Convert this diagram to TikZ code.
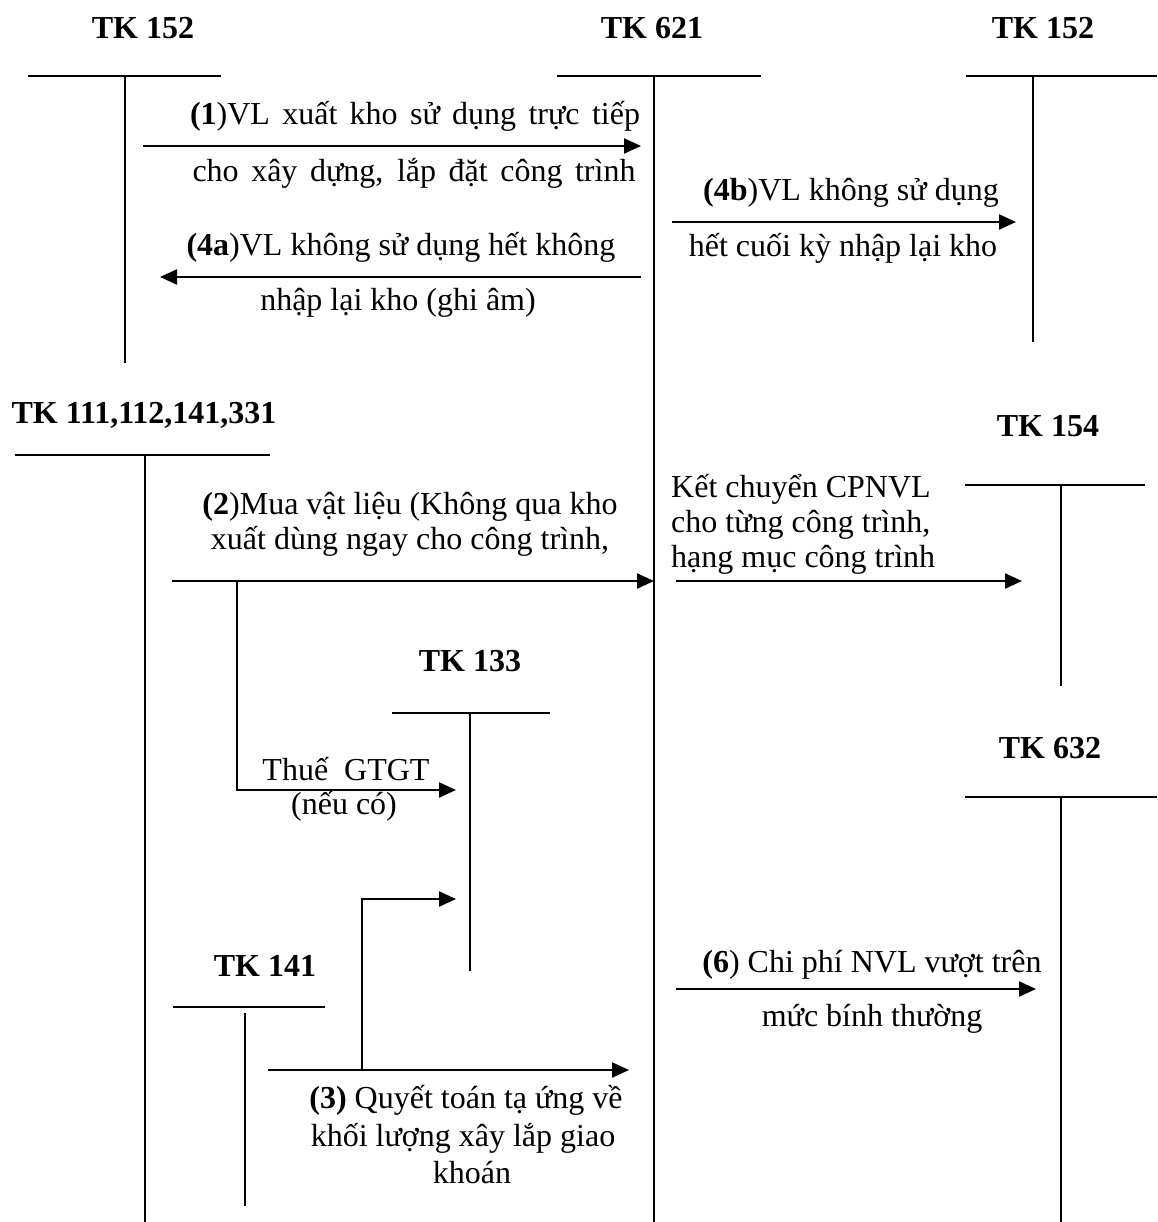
\documentclass[tikz,border=0pt]{standalone}
\usepackage{fontspec}
\setmainfont{Liberation Serif}
\usetikzlibrary{arrows.meta}
\begin{document}
\begin{tikzpicture}[x=1pt,y=-1pt,
  tline/.style={line width=1.8pt},
  flow/.style={line width=2.2pt,-{Triangle[length=17pt,width=15pt]}},
  lbl/.style={font=\fontsize{32}{37}\selectfont, inner sep=0pt, anchor=base},
  lbll/.style={font=\fontsize{32}{37}\selectfont, inner sep=0pt, anchor=base west},
  ttl/.style={font=\bfseries\fontsize{32}{37}\selectfont, inner sep=0pt, anchor=base}]
\useasboundingbox (0,0) rectangle (1157,1222);

% ---------- account titles ----------
\node[ttl] (t152a) at (143,39) {TK 152};
\node[ttl] (t621) at (652,39) {TK 621};
\node[ttl] (t152b) at (1043,39) {TK 152};
\node[ttl] (t111) at (144,423) {TK 111,112,141,331};
\node[ttl] (t154) at (1048,436) {TK 154};
\node[ttl] (t133) at (470,671) {TK 133};
\node[ttl] (t632) at (1050,758) {TK 632};
\node[ttl] (t141) at (265,976) {TK 141};

% ---------- T-accounts ----------
\coordinate (a1l) at (28,76);  \coordinate (a1r) at (221,76);
\coordinate (a1t) at (125,76); \coordinate (a1b) at (125,363);
\coordinate (a2l) at (557,76); \coordinate (a2r) at (761,76);
\coordinate (a2t) at (654,76); \coordinate (a2b) at (654,1222);
\coordinate (a3l) at (966,76); \coordinate (a3r) at (1157,76);
\coordinate (a3t) at (1033,76); \coordinate (a3b) at (1033,342);
\coordinate (a4l) at (15,455); \coordinate (a4r) at (270,455);
\coordinate (a4t) at (145,455); \coordinate (a4b) at (145,1222);
\coordinate (a5l) at (965,485); \coordinate (a5r) at (1145,485);
\coordinate (a5t) at (1061,485); \coordinate (a5b) at (1061,686);
\coordinate (a6l) at (392,713); \coordinate (a6r) at (550,713);
\coordinate (a6t) at (470,713); \coordinate (a6b) at (470,971);
\coordinate (a7l) at (173,1007); \coordinate (a7r) at (325,1007);
\coordinate (a7t) at (245,1013); \coordinate (a7b) at (245,1206);
\coordinate (a8l) at (965,797); \coordinate (a8r) at (1157,797);
\coordinate (a8t) at (1061,797); \coordinate (a8b) at (1061,1222);

\foreach \k in {1,...,8}{
  \draw[tline] (a\k l) -- (a\k r);
  \draw[tline] (a\k t) -- (a\k b);
}

% ---------- connectors ----------
\coordinate (f1s) at (143,146); \coordinate (f1e) at (641,146);
\draw[flow] (f1s) -- (f1e);
\coordinate (f4as) at (641,277); \coordinate (f4ae) at (160,277);
\draw[flow] (f4as) -- (f4ae);
\coordinate (f4bs) at (672,222); \coordinate (f4be) at (1016,222);
\draw[flow] (f4bs) -- (f4be);
\coordinate (f2s) at (172,581); \coordinate (f2e) at (654,581);
\draw[flow] (f2s) -- (f2e);
\coordinate (f5s) at (676,581); \coordinate (f5e) at (1022,581);
\draw[flow] (f5s) -- (f5e);
\coordinate (gs) at (237,581); \coordinate (ge) at (456,790);
\draw[flow] (gs) |- (ge);
\coordinate (f3s) at (268,1070); \coordinate (f3e) at (629,1070);
\draw[flow] (f3s) -- (f3e);
\coordinate (vs) at (362,1070); \coordinate (ve) at (456,899);
\draw[flow] (vs) |- (ve);
\coordinate (f6s) at (676,989); \coordinate (f6e) at (1036,989);
\draw[flow] (f6s) -- (f6e);

% ---------- labels ----------
\node[lbl] (l1a) at (415,125) {\makebox[450pt][s]{\textbf{(1})VL xuất kho sử dụng trực tiếp}};
\node[lbl] (l1b) at (414,182) {\makebox[443pt][s]{cho xây dựng, lắp đặt công trình}};
\node[lbl] (l4a) at (401,256) {\textbf{(4a})VL không sử dụng hết không};
\node[lbl] (l4a2) at (398,310) {nhập lại kho (ghi âm)};
\node[lbl] (l4b) at (851,201) {\textbf{(4b})VL không sử dụng};
\node[lbl] (l4b2) at (843,257) {hết cuối kỳ nhập lại kho};
\node[lbl] (l2a) at (410,514) {\textbf{(2})Mua vật liệu (Không qua kho};
\node[lbl] (l2b) at (410,549) {xuất dùng ngay cho công trình,};
\node[lbll] (l5a) at (671,497) {Kết chuyển CPNVL};
\node[lbll] (l5b) at (671,532) {cho từng công trình,};
\node[lbll] (l5c) at (671,567) {hạng mục công trình};
\node[lbl] (lga) at (346,780) {Thuế\ \ GTGT};
\node[lbl] (lgb) at (344,814) {(nếu có)};
\node[lbl] (l3a) at (466,1108) {\textbf{(3)} Quyết toán tạ ứng về};
\node[lbl] (l3b) at (463,1146) {khối lượng xây lắp giao};
\node[lbl] (l3c) at (472,1183) {khoán};
\node[lbl] (l6a) at (872,972) {\textbf{(6}) Chi phí NVL vượt trên};
\node[lbl] (l6b) at (872,1026) {mức bính thường};
\end{tikzpicture}
\end{document}
